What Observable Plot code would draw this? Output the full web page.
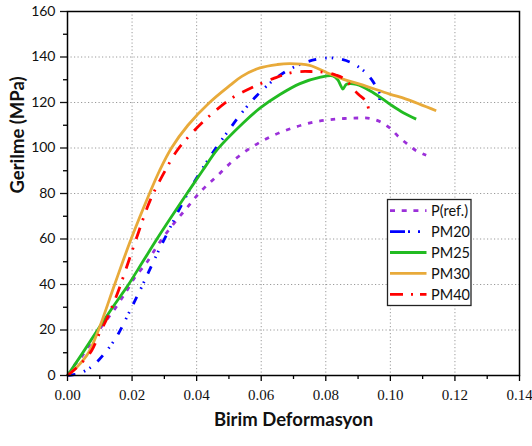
<!DOCTYPE html>
<html><head><meta charset="utf-8">
<script src="https://cdn.jsdelivr.net/npm/d3@7"></script>
<script src="https://cdn.jsdelivr.net/npm/@observablehq/plot@0.6"></script>
<style>
body{margin:0;background:#fff;}
#wrap{position:relative;width:532px;height:446px;}
#legend{position:absolute;left:0;top:0;pointer-events:none;}
</style></head><body><div id="wrap"></div>
<script>
// ---- data ----
const seriesNames = ["P(ref.)", "PM20", "PM25", "PM30", "PM40"];
const seriesColors = ["#9b30d9", "#0000ff", "#22bb22", "#e8aa3a", "#ff0000"];
const seriesDash = ["4.5,7", "8,9,1.5,5,1.5,9", null, null, "12,8,2,9"];
const legendDash = ["5,6.7", "15,3,2,8,2,60", null, null, "13,8,2,7,60"];

const refStrain = [0,0.0024,0.0045,0.0065,0.0098,0.0147,0.0184,0.0209,0.0246,0.0281,0.0323,0.0367,0.0412,0.0462,0.0513,0.0570,0.0632,0.0697,0.0764,0.0833,0.0903,0.0937,0.0969,0.1000,0.1023,0.1051,0.1080,0.1111];
const refStress = [0,5,8.5,12.8,20,29.4,37.4,43.2,49.8,57.6,65.7,73.2,80.8,87.5,94.4,100.3,105.2,108.8,111.4,112.7,113.2,113,111.5,108.6,105.3,101.9,98.8,96.8];

const pm20Strain = [0,0.0039,0.0080,0.0122,0.0158,0.0194,0.0230,0.0271,0.0323,0.0374,0.0416,0.0455,0.0498,0.0540,0.0586,0.0637,0.0685,0.0740,0.0781,0.0828,0.0879,0.0921,0.0941,0.0957,0.0967,0.0965];
const pm20Stress = [0,1,4.5,11,18.5,28.6,39,51.5,66.5,80.5,90.5,99,107.5,115.5,123,129.7,134.4,137.8,139.2,139.5,137.5,133.5,130.3,126.6,123.7,119.9];

const pm25Strain = [0,0.0045,0.0091,0.0140,0.0189,0.0233,0.0277,0.0323,0.0370,0.0418,0.0465,0.0544,0.0596,0.0658,0.0720,0.0781,0.0822,0.0838,0.0846,0.0853,0.0864,0.0895,0.0946,0.0998,0.1040,0.1080];
const pm25Stress = [0,9.5,19.5,30,40,50,60,70,80,90,99.5,111,117.5,123.5,128.3,131,131.7,129.8,127.5,125.9,128,128,124.4,119.3,115.5,112.7];

const pm30Strain = [0,0.003,0.0065,0.0096,0.0146,0.0197,0.0254,0.0285,0.0322,0.0373,0.0440,0.0503,0.0540,0.0596,0.0650,0.0689,0.0750,0.0802,0.0853,0.0905,0.0998,0.1049,0.1142];
const pm30Stress = [0,3.8,10,20,40,60,80,90,100,110,120,127.5,131.5,135.2,136.7,137.1,136.3,133.2,130.3,128.1,123.7,121.5,116.4];

const pm40Strain = [0,0.004,0.0075,0.0099,0.0122,0.0153,0.0184,0.0220,0.0256,0.0297,0.0340,0.0395,0.0455,0.0510,0.0570,0.0637,0.0700,0.0760,0.0799,0.0833,0.0859,0.0880,0.0900,0.0926,0.0933];
const pm40Stress = [0,5,11,18.5,25,35.5,48,63,77,88.6,99,108,116,122,126.5,130.5,133.3,133.6,133.2,132,130.3,126.9,123.7,120.3,116.4];

const xTicks = [0, 0.02, 0.04, 0.06, 0.08, 0.10, 0.12, 0.14];
const xMinor = [0.01, 0.03, 0.05, 0.07, 0.09, 0.11, 0.13];
const yTicks = [0, 20, 40, 60, 80, 100, 120, 140, 160];
const yMinor = [10, 30, 50, 70, 90, 110, 130, 150];
const xTitle = "Birim Deformasyon";
const yTitle = "Gerilme (MPa)";

// ---- build table ----
const strains = [refStrain, pm20Strain, pm25Strain, pm30Strain, pm40Strain];
const stresses = [refStress, pm20Stress, pm25Stress, pm30Stress, pm40Stress];
const rows = seriesNames.map((name, i) => strains[i].map((s, j) => ({series: name, strain: s, stress: stresses[i][j]})));

const gridStyle = {stroke: "#9a9a9a", strokeOpacity: 1, strokeWidth: 1, strokeDasharray: "1.2,2.3"};

const marks = [
  Plot.gridX({ticks: xTicks.slice(1, -1), ...gridStyle}),
  Plot.gridY({ticks: yTicks.slice(1, -1), ...gridStyle}),
  ...rows.map((r, i) => Plot.line(r, {
    x: "strain", y: "stress", stroke: seriesColors[i], strokeWidth: 2.8,
    strokeDasharray: seriesDash[i] || undefined, curve: "catmull-rom", strokeLinecap: "butt"
  })),
  Plot.axisX({ticks: xTicks, tickSize: 6, tickPadding: 8, tickFormat: d => d.toFixed(2),
    fontSize: 15, fontFamily: "Liberation Serif", label: null, stroke: "#000", strokeWidth: 1.3, color: "#111"}),
  Plot.axisX({ticks: xMinor, tickSize: 4, text: null, label: null, strokeWidth: 1.3}),
  Plot.axisY({ticks: yTicks, tickSize: 7, tickPadding: 5, tickFormat: d => String(d),
    fontSize: 14, fontFamily: "Lato", label: null, strokeWidth: 1.3, color: "#111"}),
  Plot.axisY({ticks: yMinor, tickSize: 4, text: null, label: null, strokeWidth: 1.3}),
  Plot.frame({stroke: "#000", strokeWidth: 1.5}),
  Plot.text([xTitle], {text: d => d, frameAnchor: "bottom", dy: 50, fontSize: 18.5,
    fontWeight: "bold", fontFamily: "Lato", fill: "#111"}),
  Plot.text([yTitle], {text: d => d, frameAnchor: "left", dx: -49, rotate: -90, fontSize: 18.5,
    fontWeight: "bold", fontFamily: "Lato", fill: "#111"})
];

const chart = Plot.plot({
  width: 532, height: 446,
  marginLeft: 67, marginRight: 13, marginTop: 11, marginBottom: 71,
  x: {domain: [0, 0.14]},
  y: {domain: [0, 160]},
  style: {background: "#fff", overflow: "visible"},
  marks
});
const wrap = document.getElementById("wrap");
wrap.appendChild(chart);

// ---- legend overlay ----
const ns = "http://www.w3.org/2000/svg";
const lg = document.createElementNS(ns, "svg");
lg.setAttribute("id", "legend");
lg.setAttribute("width", 532); lg.setAttribute("height", 446);
const box = document.createElementNS(ns, "rect");
Object.entries({x: 387.5, y: 199.5, width: 83.5, height: 106, fill: "#fff", stroke: "#222", "stroke-width": 1.3})
  .forEach(([k, v]) => box.setAttribute(k, v));
lg.appendChild(box);
seriesNames.forEach((name, i) => {
  const yy = 210.7 + i * 20.9;
  const ln = document.createElementNS(ns, "line");
  Object.entries({x1: 390, x2: 426.5, y1: yy, y2: yy, stroke: seriesColors[i], "stroke-width": 2.8})
    .forEach(([k, v]) => ln.setAttribute(k, v));
  if (legendDash[i]) ln.setAttribute("stroke-dasharray", legendDash[i]);
  lg.appendChild(ln);
  const t = document.createElementNS(ns, "text");
  Object.entries({x: 431, y: yy, "dominant-baseline": "central", "font-family": "Lato", "font-size": 14.5, fill: "#111"})
    .forEach(([k, v]) => t.setAttribute(k, v));
  t.textContent = name;
  lg.appendChild(t);
});
wrap.appendChild(lg);
</script></body></html>
